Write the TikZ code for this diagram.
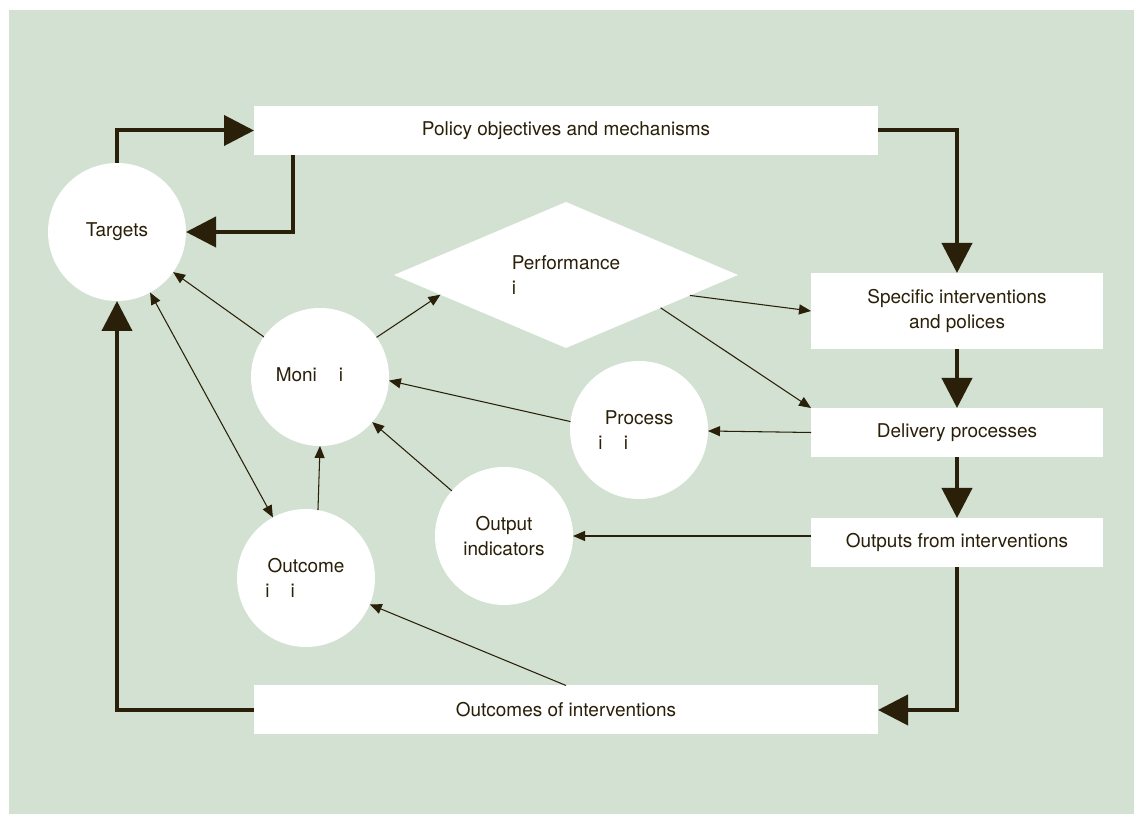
\documentclass[tikz,border=0pt]{standalone}
\usepackage{fontspec}
\setmainfont{TeX Gyre Heros}
\usetikzlibrary{arrows.meta,shapes.geometric,calc}
\definecolor{bggreen}{RGB}{210,225,209}
\definecolor{ink}{RGB}{42,31,8}

\begin{document}
\begin{tikzpicture}[font=\fontsize{10.8}{14}\selectfont, text=ink,
    box/.style={fill=white, inner sep=0pt, outer sep=0pt, minimum height=0.98cm, align=center},
    disc/.style={circle, fill=white, minimum size=2.76cm, inner sep=0pt, outer sep=0pt, align=center},
    flow/.style={-{Triangle[length=0.6cm, width=0.6cm]}, line width=0.08cm, draw=ink},
    link/.style={->, >={Triangle[length=0.24cm, width=0.2cm]}, line width=0.6pt, draw=ink}]
    \useasboundingbox (0,0) rectangle (22.72,16.32);
    \fill[bggreen] (0.18,0.04) rectangle (22.68,16.12);
    % boxes on the outer loop
    \node[box, minimum width=12.48cm] (pol) at (11.32,13.71) {Policy objectives and mechanisms};
    \node[box, minimum width=5.84cm, minimum height=1.52cm] (spec) at (19.14,10.10) {Specific interventions\\and polices};
    \node[box, minimum width=5.84cm] (del) at (19.14,7.67) {Delivery processes};
    \node[box, minimum width=5.84cm] (outp) at (19.14,5.47) {Outputs from interventions};
    \node[box, minimum width=12.48cm] (outc) at (11.32,2.12) {Outcomes of interventions};
    % indicators
    \node[disc] (tgt) at (2.34,11.68) {Targets};
    \node[diamond, fill=white, aspect=2.36, minimum width=6.88cm, minimum height=2.92cm,
        inner sep=0pt, outer sep=0pt, align=left] (perf) at (11.32,10.82) {Performance\\i};
    \node[disc] (mon) at (6.40,8.78) {Moni\phantom{tor}i\phantom{ng}};
    \node[disc] (proc) at (12.78,7.72) {Process\\i\phantom{nd}i\phantom{cators}};
    \node[disc] (oi) at (10.08,5.60) {Output\\indicators};
    \node[disc] (oc) at (6.12,4.76) {Outcome\\i\phantom{nd}i\phantom{cators}};
    % thick loop
    \draw[flow] (tgt.north) |- (pol.west);
    \draw[flow] ($(pol.south west)+(0.78,0)$) |- (tgt.east);
    \draw[flow] (pol.east) -| (spec.north);
    \draw[flow] (spec) -- (del);
    \draw[flow] (del) -- (outp);
    \draw[flow] (outp.south) |- (outc.east);
    \draw[flow] (outc.west) -| (tgt.south);
    % thin links
    \draw[link] (mon) -- (tgt);
    \draw[link] (mon.35) -- ($(perf.west)!0.27!(perf.south)$);
    \draw[link] ($(perf.east)!0.28!(perf.south)$) -- (spec.west);
    \draw[link] ($(perf.east)!0.45!(perf.south)$) -- (del.north west);
    \draw[link] (del.west) -- (proc);
    \draw[link] (proc.173) -- (mon.-3);
    \draw[link] (oi) -- (mon);
    \draw[link] (outp.west |- oi.east) -- (oi.east);
    \draw[link] (oc.80) -- (mon.-90);
    \draw[link, <->] (tgt) -- (oc);
    \draw[link] (outc.north) -- (oc);
\end{tikzpicture}
\end{document}
